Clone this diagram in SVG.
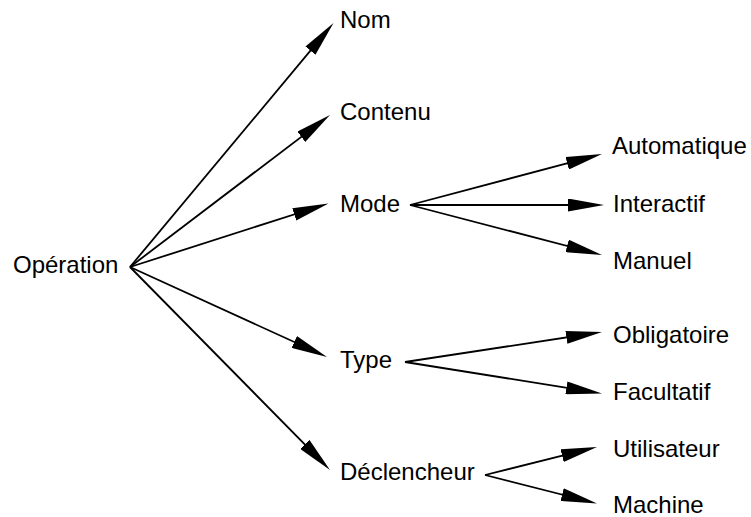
<svg xmlns="http://www.w3.org/2000/svg" width="751" height="517" viewBox="0 0 751 517">
<defs>
<style>
text{font-family:"Liberation Sans",Arial,sans-serif;font-size:24px;fill:#000}
.c line{stroke:#000;stroke-width:1.8;fill:none;marker-end:url(#ah)}
</style>
<marker id="ah" markerUnits="userSpaceOnUse" viewBox="0 0 36 13" refX="26" refY="6.5" markerWidth="36" markerHeight="13" orient="auto">
<path d="M0,0 L36,6.5 L0,13 z" fill="#000"/>
</marker>
</defs>
<rect width="751" height="517" fill="#fff"/>
<g class="c" id="connectors">
<line x1="130" y1="267" x2="327.1" y2="30.7"/>
<line x1="130" y1="267" x2="322.0" y2="121.1"/>
<line x1="130" y1="267" x2="319.0" y2="206.5"/>
<line x1="130" y1="267" x2="317.9" y2="352.8"/>
<line x1="130" y1="267" x2="323.0" y2="462.9"/>
<line x1="410" y1="205" x2="592.3" y2="156.6"/>
<line x1="410" y1="205" x2="594" y2="205"/>
<line x1="410" y1="205" x2="592.3" y2="252.5"/>
<line x1="405" y1="362" x2="592.1" y2="333.5"/>
<line x1="405" y1="362" x2="592.1" y2="391.9"/>
<line x1="485" y1="475" x2="587.3" y2="449.4"/>
<line x1="485" y1="475" x2="587.3" y2="501.0"/>
</g>
<g id="operation"><text x="13" y="273">Opération</text></g>
<g id="nom"><text x="340" y="28">Nom</text></g>
<g id="contenu"><text x="340" y="120">Contenu</text></g>
<g id="mode"><text x="340" y="212">Mode</text></g>
<g id="type"><text x="340" y="368">Type</text></g>
<g id="declencheur"><text x="340" y="480">Déclencheur</text></g>
<g id="automatique"><text x="612" y="154">Automatique</text></g>
<g id="interactif"><text x="613" y="212">Interactif</text></g>
<g id="manuel"><text x="613" y="269">Manuel</text></g>
<g id="obligatoire"><text x="613" y="343">Obligatoire</text></g>
<g id="facultatif"><text x="613" y="400">Facultatif</text></g>
<g id="utilisateur"><text x="613" y="457">Utilisateur</text></g>
<g id="machine"><text x="613" y="513">Machine</text></g>
</svg>
